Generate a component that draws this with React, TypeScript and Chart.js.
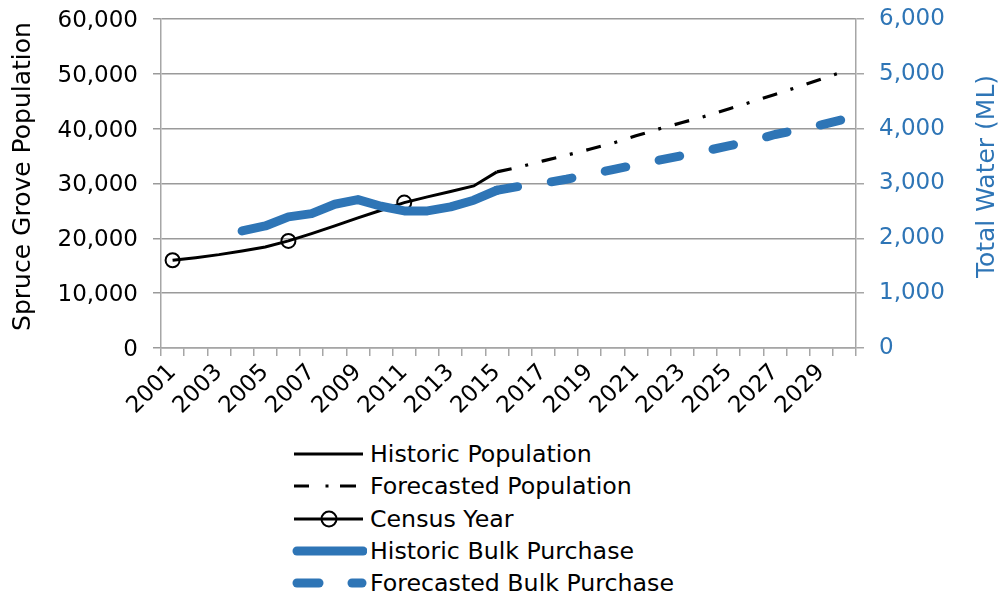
import React, { useEffect, useRef } from "react";
import { Chart, registerables } from "chart.js";

Chart.register(...registerables);

const years = [
  "2001", "2002", "2003", "2004", "2005", "2006", "2007", "2008", "2009", "2010",
  "2011", "2012", "2013", "2014", "2015", "2016", "2017", "2018", "2019", "2020",
  "2021", "2022", "2023", "2024", "2025", "2026", "2027", "2028", "2029", "2030",
];

const shownYearLabels = [
  "2001", "2003", "2005", "2007", "2009", "2011", "2013", "2015",
  "2017", "2019", "2021", "2023", "2025", "2027", "2029",
];

const historicPopulation = [
  16000, 16480, 17030, 17700, 18430, 19530, 20860, 22260, 23720, 25120,
  26520, 27560, 28530, 29560, 32120, null, null, null, null, null,
  null, null, null, null, null, null, null, null, null, null,
];

const forecastedPopulation = [
  null, null, null, null, null, null, null, null, null, null,
  null, null, null, null, 32120, 33030, 34130, 35160, 36250, 37350,
  38690, 39960, 41120, 42280, 43590, 44890, 46230, 47630, 49030, 50490,
];

const censusYear = [
  16000, null, null, null, null, 19530, null, null, null, null,
  26520, null, null, null, null, null, null, null, null, null,
  null, null, null, null, null, null, null, null, null, null,
];

const historicBulkPurchase = [
  null, null, null, 2135, 2226, 2391, 2451, 2622, 2707, 2585,
  2500, 2500, 2573, 2695, 2877, null, null, null, null, null,
  null, null, null, null, null, null, null, null, null, null,
];

const forecastedBulkPurchase = [
  null, null, null, null, null, null, null, null, null, null,
  null, null, null, null, 2877, 2950, 3005, 3078, 3163, 3254,
  3340, 3425, 3510, 3595, 3686, 3777, 3893, 3978, 4070, 4173,
];

const leftTicks = [0, 10000, 20000, 30000, 40000, 50000, 60000];
const rightTicks = [0, 1000, 2000, 3000, 4000, 5000, 6000];

const FONT = '"DejaVu Sans", sans-serif';
const BLUE = "#2E75B6";
const GRID = "#9A9A9A";
const AXIS = "#A6A6A6";

const fmt = (v: number) => Math.round(v).toString().replace(/\B(?=(\d{3})+(?!\d))/g, ",");

const axisTitlesPlugin = {
  id: "axisTitles",
  afterDraw(chart: any) {
    const ctx = chart.ctx;
    const y = chart.scales.y;
    const y1 = chart.scales.y1;
    const cy = (y.top + y.bottom) / 2 - 7;
    ctx.save();
    ctx.font = `25px ${FONT}`;
    ctx.textAlign = "center";
    ctx.textBaseline = "middle";
    ctx.fillStyle = "#000";
    ctx.translate(y.left + 23, cy);
    ctx.rotate(-Math.PI / 2);
    ctx.fillText("Spruce Grove Population", 0, 0);
    ctx.restore();
    ctx.save();
    ctx.font = `25px ${FONT}`;
    ctx.textAlign = "center";
    ctx.textBaseline = "middle";
    ctx.fillStyle = BLUE;
    ctx.translate(y1.right - 18, cy);
    ctx.rotate(-Math.PI / 2);
    ctx.fillText("Total Water (ML)", 0, 0);
    ctx.restore();
  },
};

function LegendRow({ label, children }: { label: string; children: React.ReactNode }) {
  return (
    <div style={{ display: "flex", alignItems: "center", height: 32.3 }}>
      <svg width={76} height={20} style={{ display: "block", flex: "0 0 auto" }}>
        {children}
      </svg>
      <span style={{ marginLeft: 3, fontFamily: FONT, fontSize: 23.7, lineHeight: "32px", color: "#000", whiteSpace: "nowrap" }}>
        {label}
      </span>
    </div>
  );
}

export default function App() {
  const canvasRef = useRef<HTMLCanvasElement | null>(null);

  useEffect(() => {
    if (!canvasRef.current) return;
    Chart.defaults.font.family = FONT;
    const chart = new Chart(canvasRef.current, {
      type: "line",
      data: {
        labels: years,
        datasets: [
          {
            label: "Historic Population",
            data: historicPopulation,
            yAxisID: "y",
            borderColor: "#000",
            borderWidth: 3,
            pointRadius: 0,
            tension: 0,
            order: 2,
          },
          {
            label: "Forecasted Population",
            data: forecastedPopulation,
            yAxisID: "y",
            borderColor: "#000",
            borderWidth: 3.2,
            borderDash: [15, 14, 3, 14],
            pointRadius: 0,
            order: 2,
          },
          {
            label: "Census Year",
            data: censusYear,
            yAxisID: "y",
            showLine: false,
            borderColor: "#000",
            pointRadius: 7,
            pointBorderWidth: 2,
            pointBorderColor: "#000",
            pointBackgroundColor: "rgba(0,0,0,0)",
            order: 2,
          },
          {
            label: "Historic Bulk Purchase",
            data: historicBulkPurchase,
            yAxisID: "y1",
            borderColor: BLUE,
            borderWidth: 9,
            borderCapStyle: "round",
            borderJoinStyle: "round",
            pointRadius: 0,
            order: 1,
          },
          {
            label: "Forecasted Bulk Purchase",
            data: forecastedBulkPurchase,
            yAxisID: "y1",
            borderColor: BLUE,
            borderWidth: 9,
            borderCapStyle: "round",
            borderJoinStyle: "round",
            borderDash: [21, 34],
            pointRadius: 0,
            order: 1,
          },
        ],
      },
      options: {
        animation: false,
        responsive: false,
        maintainAspectRatio: false,
        layout: { padding: { top: 19, left: 0, right: 0, bottom: 0 } },
        plugins: {
          legend: { display: false },
          tooltip: { enabled: false },
          title: { display: false },
        },
        scales: {
          x: {
            type: "category",
            offset: true,
            grid: {
              offset: true,
              drawOnChartArea: false,
              drawTicks: true,
              tickLength: 8,
              color: AXIS,
              lineWidth: 1.5,
            },
            border: { color: AXIS, width: 1.5 },
            ticks: {
              autoSkip: false,
              maxRotation: 45,
              minRotation: 45,
              padding: 3,
              color: "#000",
              font: { family: FONT, size: 23 },
              callback: function (this: any, value: any) {
                const lab = this.getLabelForValue(value);
                return shownYearLabels.includes(lab) ? lab : "";
              },
            },
            afterFit: (s: any) => {
              s.height = 82;
              s.paddingLeft = 0;
              s.paddingRight = 0;
            },
          },
          y: {
            position: "left",
            min: leftTicks[0],
            max: leftTicks[leftTicks.length - 1],
            afterBuildTicks: (s: any) => {
              s.ticks = leftTicks.map((v) => ({ value: v }));
            },
            grid: { color: GRID, lineWidth: 1.5, tickLength: 8 },
            border: { color: AXIS, width: 1.5 },
            ticks: {
              padding: 15,
              labelOffset: 2,
              color: "#000",
              font: { family: FONT, size: 23 },
              callback: (v: any) => fmt(Number(v)),
            },
            afterFit: (s: any) => {
              s.width = 161;
              s.paddingTop = 0;
              s.paddingBottom = 0;
            },
          },
          y1: {
            position: "right",
            min: rightTicks[0],
            max: rightTicks[rightTicks.length - 1],
            afterBuildTicks: (s: any) => {
              s.ticks = rightTicks.map((v) => ({ value: v }));
            },
            grid: { drawOnChartArea: false, color: AXIS, lineWidth: 1.5, tickLength: 8 },
            border: { color: AXIS, width: 1.5 },
            ticks: {
              padding: 15,
              color: BLUE,
              font: { family: FONT, size: 23 },
              callback: (v: any) => fmt(Number(v)),
            },
            afterFit: (s: any) => {
              s.width = 149;
              s.paddingTop = 0;
              s.paddingBottom = 0;
            },
          },
        },
      },
      plugins: [axisTitlesPlugin],
    });
    return () => chart.destroy();
  }, []);

  return (
    <div style={{ position: "fixed", left: 0, top: 0, width: 1005, height: 599, background: "#fff" }}>
      <canvas ref={canvasRef} width={1005} height={430} style={{ display: "block", width: 1005, height: 430 }} />
      <div style={{ position: "absolute", left: 291, top: 437.8 }}>
        <LegendRow label="Historic Population">
          <line x1={3} y1={10} x2={72} y2={10} stroke="#000" strokeWidth={3} />
        </LegendRow>
        <LegendRow label="Forecasted Population">
          <line x1={3} y1={10} x2={18} y2={10} stroke="#000" strokeWidth={3} />
          <rect x={34.5} y={8.5} width={3} height={3} fill="#000" />
          <line x1={49} y1={10} x2={65} y2={10} stroke="#000" strokeWidth={3} />
        </LegendRow>
        <LegendRow label="Census Year">
          <line x1={3} y1={10} x2={72} y2={10} stroke="#000" strokeWidth={3} />
          <circle cx={38} cy={10} r={7.5} stroke="#000" strokeWidth={2} fill="none" />
        </LegendRow>
        <LegendRow label="Historic Bulk Purchase">
          <line x1={6} y1={10} x2={72} y2={10} stroke={BLUE} strokeWidth={9} strokeLinecap="round" />
        </LegendRow>
        <LegendRow label="Forecasted Bulk Purchase">
          <line x1={6} y1={10} x2={28} y2={10} stroke={BLUE} strokeWidth={9} strokeLinecap="round" />
          <line x1={61} y1={10} x2={71} y2={10} stroke={BLUE} strokeWidth={9} strokeLinecap="round" />
        </LegendRow>
      </div>
    </div>
  );
}
